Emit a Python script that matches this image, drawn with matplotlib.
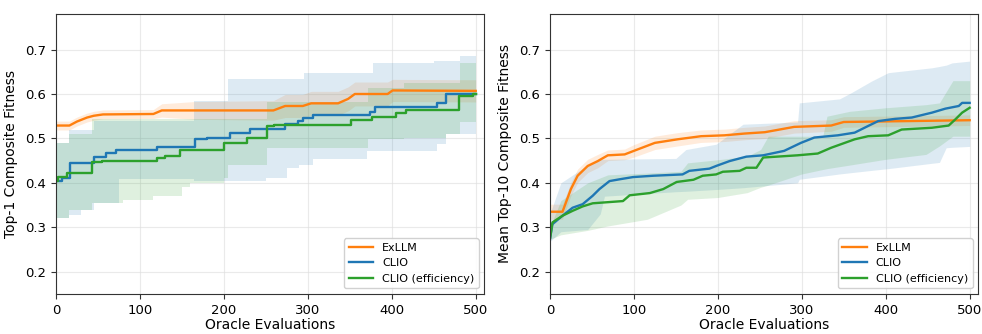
import numpy as np
import matplotlib
matplotlib.use("Agg")
import matplotlib.pyplot as plt

ORANGE = "#ff7f0e"
BLUE = "#1f77b4"
GREEN = "#2ca02c"

# ---- left panel: top-1 fitness ----
top1_exllm_x = [0, 16, 25, 37, 45, 56, 116, 126, 165, 259, 273, 294, 304, 336, 348, 356, 395, 401, 500]
top1_exllm_y = [0.529, 0.529, 0.538, 0.547, 0.551, 0.554, 0.555, 0.563, 0.563, 0.563, 0.573, 0.573,
                0.579, 0.579, 0.589, 0.600, 0.600, 0.608, 0.607]
top1_exllm_sd = [0.010, 0.010, 0.010, 0.010, 0.010, 0.010, 0.010, 0.015, 0.020, 0.022, 0.026, 0.026,
                 0.027, 0.027, 0.027, 0.027, 0.027, 0.025, 0.025]

top1_clio_x = [0, 7, 17, 45, 59, 72, 120, 166, 180, 207, 231, 273, 288, 294, 306, 374, 380, 454, 465, 500]
top1_clio_y = [0.404, 0.412, 0.444, 0.458, 0.468, 0.475, 0.481, 0.498, 0.502, 0.513, 0.522, 0.533,
               0.540, 0.545, 0.552, 0.559, 0.570, 0.580, 0.599, 0.600]
top1_clio_band_x = [0, 15, 30, 45, 75, 165, 205, 250, 275, 290, 296, 306, 370, 378, 450, 454, 465, 481, 500]
top1_clio_lo = [0.320, 0.327, 0.340, 0.355, 0.408, 0.405, 0.404, 0.412, 0.434, 0.441, 0.441, 0.453,
                0.472, 0.472, 0.472, 0.487, 0.509, 0.509, 0.510]
top1_clio_hi = [0.490, 0.520, 0.520, 0.540, 0.540, 0.585, 0.633, 0.633, 0.633, 0.633, 0.648, 0.648,
                0.648, 0.670, 0.674, 0.674, 0.674, 0.685, 0.685]

top1_eff_x = [0, 3, 13, 43, 55, 120, 130, 148, 200, 227, 251, 260, 352, 376, 405, 417, 480, 497, 500]
top1_eff_y = [0.404, 0.413, 0.423, 0.447, 0.450, 0.457, 0.460, 0.475, 0.490, 0.502, 0.529, 0.531,
              0.541, 0.549, 0.557, 0.564, 0.595, 0.600, 0.600]
top1_eff_band_x = [0, 15, 43, 80, 115, 150, 160, 200, 205, 251, 372, 415, 465, 481, 500]
top1_eff_lo = [0.320, 0.340, 0.355, 0.362, 0.370, 0.390, 0.400, 0.410, 0.440, 0.479, 0.498, 0.500,
               0.509, 0.536, 0.536]
top1_eff_hi = [0.490, 0.509, 0.543, 0.543, 0.543, 0.543, 0.543, 0.543, 0.543, 0.583, 0.614, 0.625,
               0.625, 0.670, 0.670]

# ---- right panel: mean top-10 fitness ----
top10_exllm_x = [0, 15, 25, 33, 45, 57, 69, 89, 100, 125, 152, 180, 208, 232, 256, 291, 335, 350, 500]
top10_exllm_y = [0.335, 0.335, 0.386, 0.416, 0.438, 0.449, 0.462, 0.464, 0.472, 0.490, 0.498, 0.505,
                 0.507, 0.511, 0.514, 0.526, 0.529, 0.537, 0.541]
top10_exllm_sd = [0.017, 0.017, 0.015, 0.015, 0.015, 0.015, 0.012, 0.012, 0.014, 0.015, 0.015, 0.014,
                  0.014, 0.014, 0.014, 0.014, 0.013, 0.012, 0.012]

top10_clio_x = [0, 3, 15, 27, 39, 51, 59, 71, 83, 99, 123, 158, 166, 190, 198, 214, 234, 254, 279,
                299, 315, 343, 363, 379, 391, 411, 431, 455, 471, 487, 491, 500]
top10_clio_y = [0.273, 0.307, 0.326, 0.344, 0.352, 0.371, 0.386, 0.404, 0.408, 0.413, 0.416, 0.419,
                0.427, 0.432, 0.438, 0.449, 0.459, 0.462, 0.472, 0.490, 0.502, 0.507, 0.513, 0.528,
                0.539, 0.544, 0.547, 0.558, 0.567, 0.573, 0.580, 0.580]
top10_clio_band_x = [0, 13, 45, 60, 65, 150, 162, 198, 230, 295, 297, 345, 359, 383, 403, 455, 464,
                     472, 479, 500]
top10_clio_lo = [0.268, 0.290, 0.295, 0.330, 0.370, 0.380, 0.381, 0.385, 0.389, 0.400, 0.408, 0.420,
                 0.423, 0.428, 0.432, 0.444, 0.446, 0.479, 0.480, 0.482]
top10_clio_hi = [0.330, 0.400, 0.440, 0.453, 0.453, 0.455, 0.475, 0.487, 0.532, 0.537, 0.580, 0.589,
                 0.603, 0.629, 0.648, 0.659, 0.662, 0.665, 0.670, 0.674]

top10_eff_x = [0, 3, 15, 27, 39, 51, 87, 95, 119, 135, 151, 171, 182, 198, 206, 226, 234, 246, 254,
               295, 319, 335, 363, 379, 403, 419, 455, 475, 483, 491, 500]
top10_eff_y = [0.273, 0.311, 0.326, 0.337, 0.347, 0.354, 0.359, 0.372, 0.377, 0.386, 0.402, 0.407,
               0.416, 0.419, 0.425, 0.427, 0.434, 0.434, 0.457, 0.462, 0.466, 0.479, 0.498, 0.505,
               0.507, 0.520, 0.524, 0.529, 0.543, 0.558, 0.569]
top10_eff_band_x = [0, 13, 45, 69, 116, 156, 164, 200, 235, 251, 260, 300, 325, 330, 357, 400, 448,
                    464, 480, 500]
top10_eff_lo = [0.273, 0.283, 0.293, 0.303, 0.318, 0.350, 0.363, 0.367, 0.378, 0.390, 0.395, 0.420,
                0.430, 0.432, 0.440, 0.453, 0.464, 0.483, 0.505, 0.505]
top10_eff_hi = [0.300, 0.360, 0.400, 0.418, 0.422, 0.426, 0.445, 0.452, 0.460, 0.475, 0.505, 0.505,
                0.505, 0.550, 0.561, 0.569, 0.576, 0.580, 0.630, 0.630]


def draw_panel(ax, exllm, clio, eff, ylabel, steps):
    ds = "steps-post" if steps else "default"
    st = "post" if steps else None

    # ExLLM is a smooth-ish mean with a symmetric band
    ex_x, ex_y, ex_sd = (np.array(v) for v in exllm)
    ax.fill_between(ex_x, ex_y - ex_sd, ex_y + ex_sd, color=ORANGE, alpha=0.15, linewidth=0)
    ax.plot(ex_x, ex_y, color=ORANGE, lw=1.7, label="ExLLM")

    for (x, y, bx, lo, hi), col, lab in [(clio, BLUE, "CLIO"), (eff, GREEN, "CLIO (efficiency)")]:
        ax.fill_between(bx, lo, hi, color=col, alpha=0.15, linewidth=0, step=st)
        ax.plot(x, y, color=col, lw=1.7, label=lab, drawstyle=ds)

    ax.set_xlim(0, 510)
    ax.set_ylim(0.15, 0.78)
    ax.set_xticks([0, 100, 200, 300, 400, 500])
    ax.set_yticks([0.2, 0.3, 0.4, 0.5, 0.6, 0.7])
    ax.grid(True, color="#dddddd", alpha=0.6, linewidth=0.8)
    ax.set_axisbelow(True)
    for s in ax.spines.values():
        s.set_color("#333333")
    ax.tick_params(labelsize=9.5, color="#333333")
    ax.set_xlabel("Oracle Evaluations", fontsize=10, labelpad=1)
    ax.set_ylabel(ylabel, fontsize=10, labelpad=5)
    ax.legend(loc="lower right", fontsize=8, framealpha=0.9, handlelength=2.2)


fig = plt.figure(figsize=(9.82, 3.34), dpi=100)
ax1 = fig.add_axes([0.057, 0.12, 0.436, 0.838])
ax2 = fig.add_axes([0.560, 0.12, 0.436, 0.838])

draw_panel(ax1,
           (top1_exllm_x, top1_exllm_y, top1_exllm_sd),
           (top1_clio_x, top1_clio_y, top1_clio_band_x, top1_clio_lo, top1_clio_hi),
           (top1_eff_x, top1_eff_y, top1_eff_band_x, top1_eff_lo, top1_eff_hi),
           "Top-1 Composite Fitness", steps=True)
draw_panel(ax2,
           (top10_exllm_x, top10_exllm_y, top10_exllm_sd),
           (top10_clio_x, top10_clio_y, top10_clio_band_x, top10_clio_lo, top10_clio_hi),
           (top10_eff_x, top10_eff_y, top10_eff_band_x, top10_eff_lo, top10_eff_hi),
           "Mean Top-10 Composite Fitness", steps=False)

fig.savefig("out.png", dpi=100)
